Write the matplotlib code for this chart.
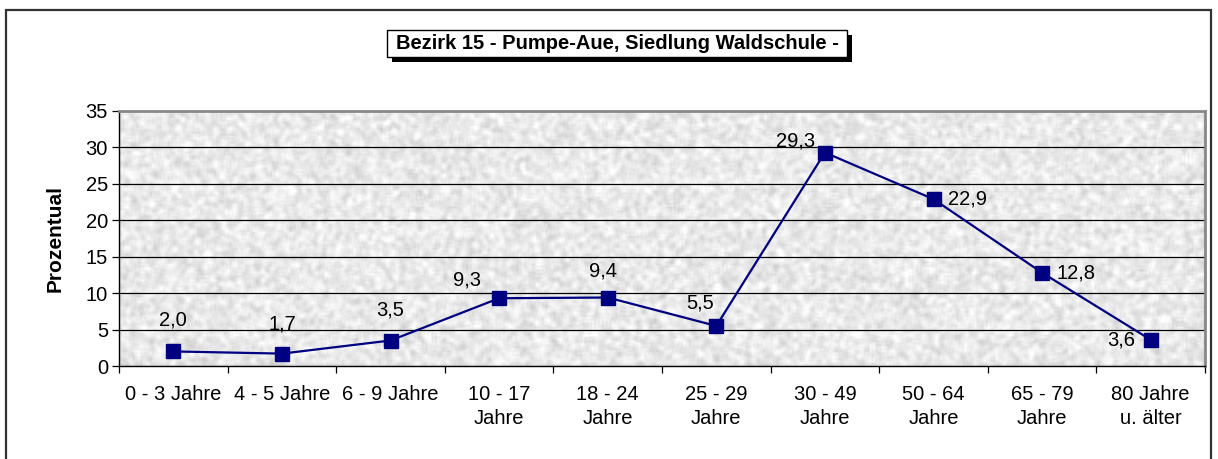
import numpy as np
import matplotlib
matplotlib.use("Agg")
import matplotlib.pyplot as plt
from matplotlib.patches import Rectangle

plt.rcParams['font.family'] = ['Liberation Sans', 'DejaVu Sans']

categories = ["0 - 3 Jahre", "4 - 5 Jahre", "6 - 9 Jahre", "10 - 17\nJahre", "18 - 24\nJahre",
              "25 - 29\nJahre", "30 - 49\nJahre", "50 - 64\nJahre", "65 - 79\nJahre", "80 Jahre\nu. älter"]
values = [2.0, 1.7, 3.5, 9.3, 9.4, 5.5, 29.3, 22.9, 12.8, 3.6]
labels = ["2,0", "1,7", "3,5", "9,3", "9,4", "5,5", "29,3", "22,9", "12,8", "3,6"]
# label offsets in pixels (dx, dy) relative to the point
offsets = [(0, 31), (0, 30), (0, 31), (-32, 18), (-5, 27), (-16, 23), (-29, 12), (34, 0), (34, 0), (-29, 0)]

W, H = 1218, 459
fig = plt.figure(figsize=(W / 100, H / 100), dpi=100)

def fx(px): return px / W
def fy(py): return 1 - py / H

# outer frame
fig.patches.append(Rectangle((fx(6), fy(470)), fx(1211) - fx(6), fy(10) - fy(470),
                             transform=fig.transFigure, fill=False, ec="#333333", lw=1.6))

ax = fig.add_axes([fx(119), fy(366), fx(1205) - fx(119), fy(111) - fy(366)])

# light stone texture background
rng = np.random.default_rng(3)
tex = rng.random((130, 560))
k = np.ones(3) / 3
tex = np.apply_along_axis(lambda r: np.convolve(r, k, mode="same"), 1, tex)
tex = np.apply_along_axis(lambda c: np.convolve(c, k, mode="same"), 0, tex)
tex = 0.915 + 0.035 * (tex - tex.mean()) / tex.std()
ax.imshow(tex, cmap="gray", vmin=0, vmax=1, extent=[0, 1, 0, 1], transform=ax.transAxes,
          aspect="auto", zorder=0, interpolation="bilinear")

x = np.arange(len(categories))
ax.set_xlim(-0.5, len(categories) - 0.5)
ax.set_ylim(0, 35)
ax.set_yticks(range(0, 36, 5))
for yv in range(5, 31, 5):
    ax.axhline(yv, color="black", lw=0.9, zorder=1)

ax.plot(x, values, color="#000080", lw=1.6, marker="s", ms=9.5, mfc="#000080", mec="#000080", zorder=3)
for xi, v, lab, (dx, dy) in zip(x, values, labels, offsets):
    ax.annotate(lab, (xi, v), xytext=(dx * 0.72, dy * 0.72), textcoords="offset points",
                ha="center", va="center", fontsize=14.5, zorder=4)

ax.set_xticks(np.arange(-0.5, len(categories), 1))
ax.set_xticklabels([])
ax.set_xticks(x, minor=True)
ax.set_xticklabels(categories, minor=True, fontsize=14.5, linespacing=1.3)
ax.tick_params(axis="x", which="minor", length=0, pad=14)
ax.tick_params(axis="x", which="major", length=5, direction="out", width=0.9)
ax.tick_params(axis="y", length=5, direction="out", width=0.9, labelsize=14.5, pad=3)

for s in ["left", "bottom"]:
    ax.spines[s].set_color("black")
    ax.spines[s].set_linewidth(1.0)
for s in ["top", "right"]:
    ax.spines[s].set_color("#888888")
    ax.spines[s].set_linewidth(2.0)

fig.text(fx(55), fy(238), "Prozentual", rotation=90, ha="center", va="center",
         fontsize=15, fontweight="bold")

# title box with shadow
bx0, by0, bx1, by1 = 387, 30, 847, 57
fig.patches.append(Rectangle((fx(bx0 + 5), fy(by1 + 5)), fx(bx1) - fx(bx0), fy(by0) - fy(by1),
                             transform=fig.transFigure, fc="black", ec="black", lw=0))
fig.patches.append(Rectangle((fx(bx0), fy(by1)), fx(bx1) - fx(bx0), fy(by0) - fy(by1),
                             transform=fig.transFigure, fc="white", ec="black", lw=1.0))
fig.text(fx((bx0 + bx1) / 2), fy((by0 + by1) / 2), "Bezirk 15 - Pumpe-Aue, Siedlung Waldschule -",
         ha="center", va="center", fontsize=14.5, fontweight="bold")

fig.savefig("out.png", dpi=100)
